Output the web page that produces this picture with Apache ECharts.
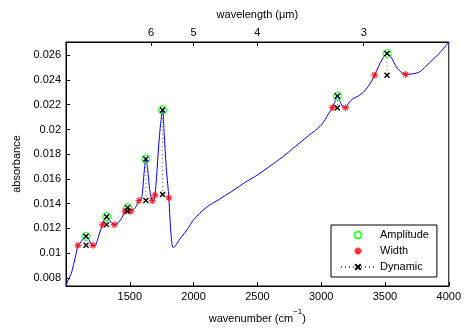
<!DOCTYPE html>
<html><head><meta charset="utf-8">
<script src="https://cdn.jsdelivr.net/npm/echarts@6/dist/echarts.min.js"></script>
<style>html,body{margin:0;padding:0;background:#fff}#c{width:464px;height:329px}</style>
</head><body><div id="c"></div>
<script>
// spectrum (wavenumber, absorbance)
const curveW = [1000,1015,1030,1045,1060,1080,1094,1110,1130,1157,1180,1200,1211,1225,1245,1265,1287,1300,1319,1340,1360,1378,1400,1420,1440,1462,1483,1500,1509,1525,1545,1560,1572,1590,1600,1612,1626,1640,1655,1668,1676,1684,1697,1710,1725,1742,1757,1770,1785,1798,1806,1815,1825,1838,1850,1870,1900,1950,2000,2100,2200,2300,2400,2500,2600,2700,2800,2900,2990,3030,3060,3088,3105,3127,3150,3170,3190,3220,3250,3290,3330,3370,3400,3419,3450,3480,3516,3550,3589,3620,3662,3720,3772,3820,3870,3930,4000];
const curveA = [0.00735,0.0078,0.0081,0.0085,0.0091,0.0100,0.01064,0.0108,0.0111,0.01137,0.0111,0.0107,0.01064,0.01058,0.0110,0.0117,0.01231,0.0127,0.01295,0.0127,0.01242,0.01231,0.01238,0.0126,0.0129,0.0134,0.01367,0.0135,0.0134,0.0135,0.0137,0.0140,0.01426,0.01434,0.0150,0.0165,0.01761,0.0168,0.0152,0.0145,0.01426,0.0142,0.01469,0.0162,0.0185,0.0205,0.02158,0.0196,0.0170,0.0155,0.01448,0.0128,0.0113,0.01048,0.0105,0.0108,0.01125,0.0119,0.0127,0.0137,0.01435,0.0150,0.0157,0.01632,0.01705,0.0178,0.01865,0.0195,0.02024,0.0208,0.0213,0.02176,0.0222,0.0227,0.0222,0.0218,0.02176,0.0222,0.0225,0.0227,0.0230,0.0235,0.0240,0.02439,0.0251,0.0257,0.02614,0.0258,0.02506,0.0247,0.02445,0.0245,0.02466,0.0251,0.0256,0.0262,0.02707];
// Amplitude peaks
const ampW = [1157,1319,1483,1626,1757,3127,3516];
const ampA = [0.01137,0.01295,0.01367,0.01761,0.02158,0.0227,0.02614];
// Dynamic base
const dynBase = [0.01064,0.01231,0.0134,0.01426,0.01474,0.02176,0.02439];
// Width points
const widW = [1094,1211,1287,1378,1462,1509,1572,1676,1697,1806,3088,3190,3419,3662];
const widA = [0.01064,0.01064,0.01231,0.01231,0.0134,0.0134,0.01426,0.01426,0.01469,0.01448,0.02176,0.02176,0.02439,0.02445];
// ticks
const xTicks = [1500,2000,2500,3000,3500,4000];
const yTicks = [0.008,0.010,0.012,0.014,0.016,0.018,0.020,0.022,0.024,0.026];
const topLambda = [6,5,4,3];

const FONT = 'Liberation Sans, Arial, sans-serif';
const starPath = 'path://M5,0L5,10M0,5L10,5M1.5,1.5L8.5,8.5M8.5,1.5L1.5,8.5';
const xPath = 'path://M0,0L10,10M10,0L0,10';

const curve = curveW.map((w,i)=>[w,curveA[i]]);
const amp = ampW.map((w,i)=>[w,ampA[i]]);
const wid = widW.map((w,i)=>[w,widA[i]]);
const dyn = [];
ampW.forEach((w,i)=>{dyn.push([w,ampA[i]]);dyn.push([w,dynBase[i]]);dyn.push([w,'-']);});
const topVals = topLambda.map(l=>10000/l);

const chart = echarts.init(document.getElementById('c'));
const axisCommon = {
  axisLine:{show:true,lineStyle:{color:'#000',width:1}},
  splitLine:{show:false}
};
chart.setOption({
  animation:false,
  backgroundColor:'#fff',
  grid:{left:66,right:15,top:42,bottom:42,show:true,borderColor:'#000',borderWidth:1,backgroundColor:'#fff'},
  xAxis:[
    Object.assign({},axisCommon,{type:'value',position:'bottom',min:1000,max:4000,
      axisTick:{inside:true,length:4,lineStyle:{color:'#000'},customValues:xTicks},
      axisLabel:{color:'#000',fontFamily:FONT,fontSize:11,margin:5,customValues:xTicks,formatter:v=>String(v)},
      name:'{a|wavenumber (cm}{s|−1}{a|)}',nameLocation:'middle',nameGap:22,
      nameTextStyle:{rich:{a:{fontFamily:FONT,fontSize:11,color:'#000',lineHeight:16,verticalAlign:'bottom'},s:{fontFamily:FONT,fontSize:8,color:'#000',lineHeight:16,verticalAlign:'top'}}}}),
    Object.assign({},axisCommon,{type:'value',position:'top',min:1000,max:4000,
      axisTick:{inside:true,length:4,lineStyle:{color:'#000'},customValues:topVals},
      axisLabel:{color:'#000',fontFamily:FONT,fontSize:11,margin:4,customValues:topVals,formatter:v=>String(Math.round(10000/v))},
      name:'wavelength (μm)',nameLocation:'middle',nameGap:22,
      nameTextStyle:{fontFamily:FONT,fontSize:11,color:'#000'}})
  ],
  yAxis:Object.assign({},axisCommon,{type:'value',min:0.00735,max:0.02707,
    axisTick:{inside:true,length:4,lineStyle:{color:'#000'},customValues:yTicks},
    axisLabel:{color:'#000',fontFamily:FONT,fontSize:11,margin:5,customValues:yTicks,formatter:v=>String(parseFloat(v.toFixed(3)))},
    name:'absorbance',nameLocation:'middle',nameGap:44,
    nameTextStyle:{fontFamily:FONT,fontSize:11,color:'#000'}}),
  legend:{
    orient:'vertical',left:331,top:225,
    padding:[4,8,4,9],itemGap:4,itemWidth:34,itemHeight:7,
    borderColor:'#000',borderWidth:1,backgroundColor:'#fff',
    textStyle:{fontFamily:FONT,fontSize:11,color:'#000',lineHeight:12},
    data:['Amplitude','Width','Dynamic']
  },
  series:[
    {name:'spectrum',type:'line',data:curve,smooth:0.3,showSymbol:false,symbol:'none',
     lineStyle:{color:'#0000ff',width:1},z:2,silent:true},
    {name:'Amplitude',type:'scatter',data:amp,symbol:'circle',symbolSize:8,
     itemStyle:{color:'rgba(0,0,0,0)',borderColor:'#00ff00',borderWidth:1.2},z:3},
    {name:'Width',type:'scatter',data:wid,symbol:starPath,symbolSize:7,
     itemStyle:{color:'#ff0000',borderColor:'#ff0000',borderWidth:1.2},z:4},
    {name:'Dynamic',type:'line',data:dyn,connectNulls:false,showSymbol:true,symbol:xPath,symbolSize:5,
     itemStyle:{color:'#000',borderColor:'#000',borderWidth:1.4},
     lineStyle:{color:'#666',width:1,type:[1,3]},z:5}
  ]
});
</script></body></html>
